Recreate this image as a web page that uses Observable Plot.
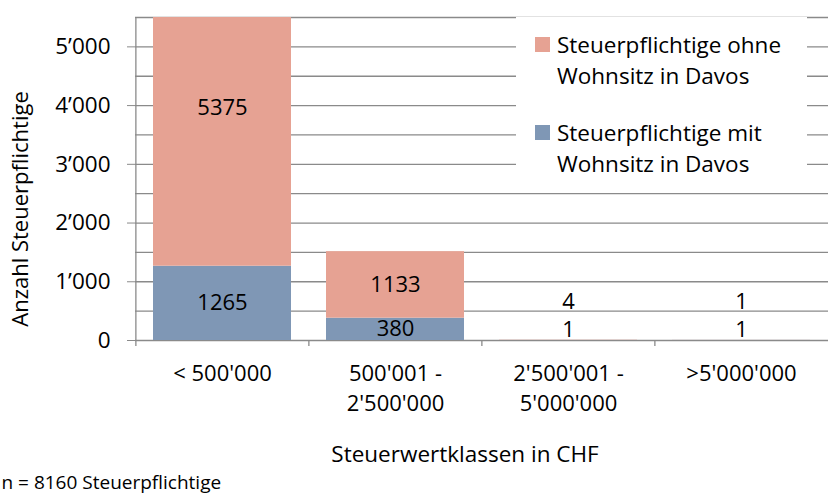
<!DOCTYPE html>
<html><head><meta charset="utf-8">
<script src="https://cdn.jsdelivr.net/npm/d3@7"></script>
<script src="https://cdn.jsdelivr.net/npm/@observablehq/plot@0.6"></script>
<style>
body{margin:0;background:#fff;}
#wrap{position:relative;width:828px;height:499px;font-family:"Open Sans",sans-serif;}
#legend{position:absolute;left:516px;top:17px;width:291px;height:175px;background:#fff;font-size:22.5px;line-height:31px;color:#000;}
.item{position:absolute;left:19px;padding-left:22px;white-space:nowrap;}
.sw{position:absolute;left:0;top:8px;width:15px;height:15px;}
</style></head>
<body><div id="wrap"></div>
<script>
const categories = ["< 500'000", "500'001 -\n2'500'000", "2'500'001 -\n5'000'000", ">5'000'000"];
const seriesNames = ["Steuerpflichtige mit Wohnsitz in Davos", "Steuerpflichtige ohne Wohnsitz in Davos"];
const mitWohnsitz = [1265, 380, 1, 1];
const ohneWohnsitz = [5375, 1133, 4, 1];
const yTicks = [0, 1000, 2000, 3000, 4000, 5000];
const colors = ["#7f97b5", "#e6a293"];

const data = [];
categories.forEach((c, i) => {
  data.push({cat: c, series: seriesNames[0], value: mitWohnsitz[i], idx: i});
  data.push({cat: c, series: seriesNames[1], value: ohneWohnsitz[i], idx: i});
});
const big = data.filter(d => d.idx < 2);
const smallMit = data.filter(d => d.idx >= 2 && d.series === seriesNames[0]);
const smallOhne = data.filter(d => d.idx >= 2 && d.series === seriesNames[1]);

const W = 828, H = 499, mL = 135, mR = 0, mT = 17, mB = 159;
const step = (W - mL - mR) / categories.length;
const fmt = n => d3.format(",")(n).replace(/,/g, "\u2019");
const font = "Open Sans";

const chart = Plot.plot({
  width: W, height: H,
  marginLeft: mL, marginRight: mR, marginTop: mT, marginBottom: mB,
  style: {fontFamily: font, fontSize: "22px", color: "#000", background: "#fff"},
  x: {domain: categories, paddingInner: 0.2, paddingOuter: 0.1, label: null},
  y: {domain: [0, 5500], label: null},
  color: {domain: seriesNames, range: colors},
  marks: [
    Plot.ruleY(d3.range(0, 5501, 500), {stroke: "#8a8a8a", strokeWidth: 1.3}),
    Plot.barY(data, {x: "cat", y: "value", fill: "series", z: "series", clip: true}),
    Plot.ruleX(categories, {x: d => d, dx: -step / 2, y1: 0, y2: 0, insetBottom: -6, stroke: "#8a8a8a", strokeWidth: 1.3}),
    Plot.ruleX([0], {x: () => categories[0], dx: -step / 2, y1: 0, y2: 5500, stroke: "#8a8a8a", strokeWidth: 1.3}),
    Plot.axisY({ticks: yTicks, tickFormat: fmt, tickSize: 8, tickPadding: 17, stroke: "#8a8a8a", label: null, fontSize: 22.5}),
    Plot.axisX({tickSize: 0, tickPadding: 19, label: null, fontSize: 22, lineHeight: 1.36}),
    Plot.text(big, Plot.stackY({x: "cat", y: "value", z: "series", text: d => String(d.value), fontSize: 22})),
    Plot.text(smallMit, {x: "cat", y: 0, text: d => String(d.value), dy: -11, fontSize: 22}),
    Plot.text(smallOhne, {x: "cat", y: 0, text: d => String(d.value), dy: -39, fontSize: 22}),
    Plot.text(["Anzahl Steuerpflichtige"], {frameAnchor: "left", textAnchor: "middle", rotate: -90, dx: -115, dy: 30, fontSize: 22}),
    Plot.text(["Steuerwertklassen in CHF"], {frameAnchor: "bottom", textAnchor: "middle", dx: -17, dy: 121, fontSize: 22.5}),
    Plot.text(["n = 8160 Steuerpflichtige"], {frameAnchor: "bottom-left", dx: -mL + 1, dy: 148, textAnchor: "start", fontSize: 19})
  ]
});
const wrap = document.getElementById("wrap");
wrap.appendChild(chart);

const legend = document.createElement("div");
legend.id = "legend";
const items = [[seriesNames[1], colors[1], 12], [seriesNames[0], colors[0], 100]];
items.forEach(([name, col, top]) => {
  const it = document.createElement("div");
  it.className = "item";
  it.style.top = top + "px";
  const sw = document.createElement("div");
  sw.className = "sw"; sw.style.background = col;
  it.appendChild(sw);
  const words = name.split(" ");
  const l1 = document.createElement("div"); l1.textContent = words.slice(0, 2).join(" ");
  const l2 = document.createElement("div"); l2.textContent = words.slice(2).join(" ");
  it.appendChild(l1); it.appendChild(l2);
  legend.appendChild(it);
});
wrap.appendChild(legend);
</script></body></html>
